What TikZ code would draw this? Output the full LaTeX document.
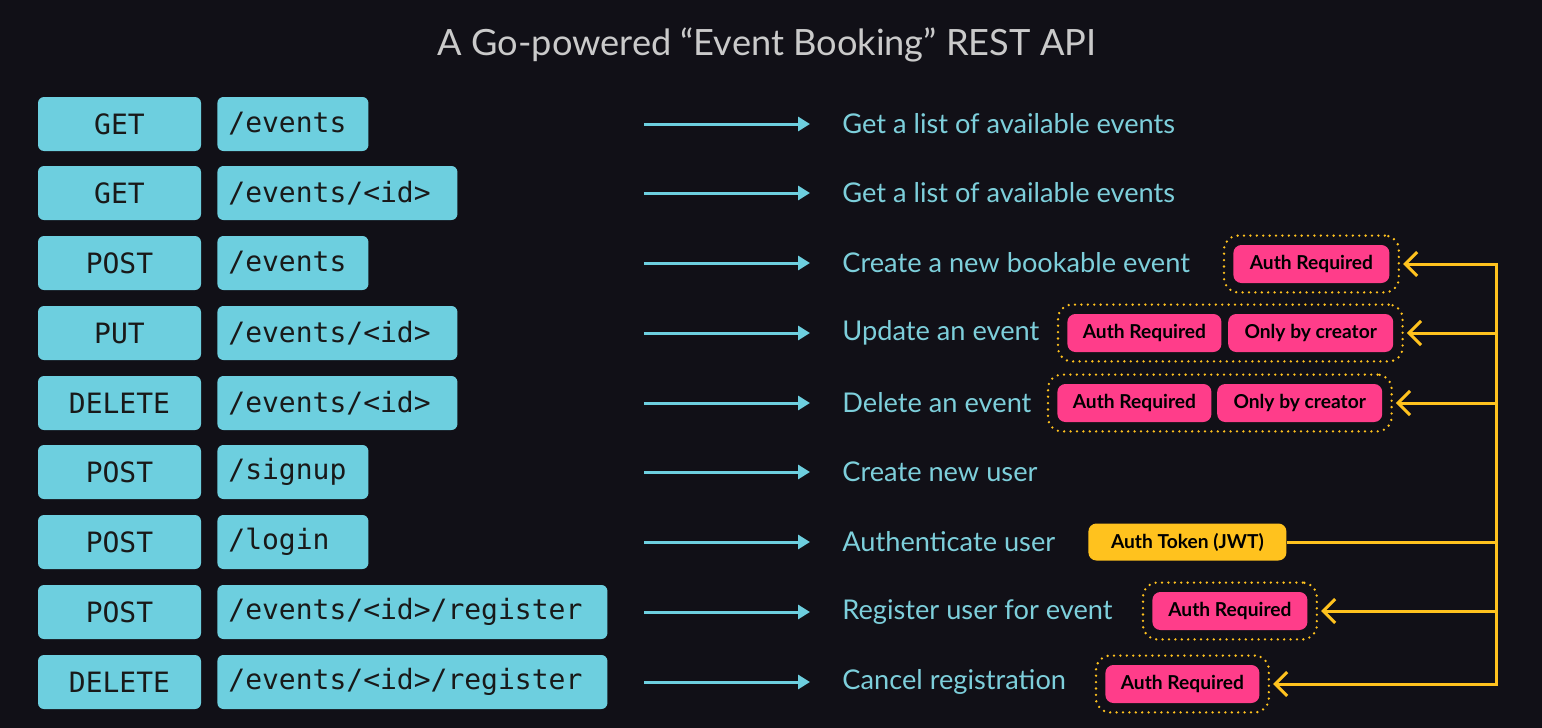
\documentclass[tikz,border=0pt]{standalone}
\usepackage{fontspec}
\setmainfont{Lato}
\newfontfamily\codefont{DejaVu Sans Mono}
\usetikzlibrary{arrows.meta,positioning,fit}

\definecolor{bg}{HTML}{111017}
\definecolor{boxcyan}{HTML}{6DCFDF}
\definecolor{desccol}{HTML}{7DCFDB}
\definecolor{titlecol}{HTML}{CACACA}
\definecolor{badgepink}{HTML}{FF3D8A}
\definecolor{gold}{HTML}{FFC21E}

\begin{document}
\begin{tikzpicture}[x=0.5pt,y=-0.5pt,
    method/.style={fill=boxcyan,rounded corners=3pt,minimum width=81.5pt,
      minimum height=27pt,text=black!90,font=\codefont\fontsize{14}{16}\selectfont},
    route/.style={fill=boxcyan,rounded corners=3pt,anchor=west,minimum height=27pt,
      inner xsep=5.5pt,text width=#1,align=left,text=black!90,
      font=\codefont\fontsize{14}{16}\selectfont},
    desc/.style={anchor=west,inner sep=0pt,text=desccol,font=\fontsize{13.6}{16}\selectfont},
    flow/.style={draw=boxcyan,line width=1.5pt,-{Triangle[length=6pt,width=7pt]},shorten >=16pt},
    badge/.style={fill=badgepink,rounded corners=4pt,minimum height=19pt,text=black,
      font=\bfseries\fontsize{9.6}{11}\selectfont},
    dots/.style={draw=gold,line width=1.3pt,dash pattern=on 0pt off 3.2pt,line cap=round,
      rounded corners=7pt,inner sep=4.5pt},
    link/.style={draw=gold,line width=1.5pt,-{Straight Barb[length=6pt,width=12pt]},shorten >=1.5pt}]

  \path[fill=bg] (0,0) rectangle (1542,728);

  \node[text=titlecol,font=\fontsize{18.1}{21}\selectfont] (title) at (767,45)
       {A Go-powered “Event Booking” REST API};

  % methods
  \node[method] (M1) at (119.5,124) {GET};
  \node[method] (M2) at (119.5,193) {GET};
  \node[method] (M3) at (119.5,263) {POST};
  \node[method] (M4) at (119.5,333) {PUT};
  \node[method] (M5) at (119.5,403) {DELETE};
  \node[method] (M6) at (119.5,472) {POST};
  \node[method] (M7) at (119.5,542) {POST};
  \node[method] (M8) at (119.5,612) {POST};
  \node[method] (M9) at (119.5,682) {DELETE};

  % routes
  \node[route=64.5pt] (P1) at (217,124) {/events};
  \node[route=109pt]  (P2) at (217,193) {/events/<id>};
  \node[route=64.5pt] (P3) at (217,263) {/events};
  \node[route=109pt]  (P4) at (217,333) {/events/<id>};
  \node[route=109pt]  (P5) at (217,403) {/events/<id>};
  \node[route=64.5pt] (P6) at (217,472) {/signup};
  \node[route=64.5pt] (P7) at (217,542) {/login};
  \node[route=184pt]  (P8) at (217,612) {/events/<id>/register};
  \node[route=184pt]  (P9) at (217,682) {/events/<id>/register};

  % descriptions
  \node[desc] (D1) at (842,124) {Get a list of available events};
  \node[desc] (D2) at (842,193) {Get a list of available events};
  \node[desc] (D3) at (842,263) {Create a new bookable event};
  \node[desc] (D4) at (842,333) {Update an event};
  \node[desc] (D5) at (842,403) {Delete an event};
  \node[desc] (D6) at (842,472) {Create new user};
  \node[desc] (D7) at (842,542) {Authenticate user};
  \node[desc] (D8) at (842,612) {Register user for event};
  \node[desc] (D9) at (842,682) {Cancel registration};

  \coordinate (S1) at (644,124);
  \coordinate (S2) at (644,193);
  \coordinate (S3) at (644,263);
  \coordinate (S4) at (644,333);
  \coordinate (S5) at (644,403);
  \coordinate (S6) at (644,472);
  \coordinate (S7) at (644,542);
  \coordinate (S8) at (644,612);
  \coordinate (S9) at (644,682);

  \path (S1) edge[flow] (D1)
        (S2) edge[flow] (D2)
        (S3) edge[flow] (D3)
        (S4) edge[flow] (D4)
        (S5) edge[flow] (D5)
        (S6) edge[flow] (D6)
        (S7) edge[flow] (D7)
        (S8) edge[flow] (D8)
        (S9) edge[flow] (D9);

  % badges
  \node[badge,anchor=west,minimum width=78pt] (A3) at (1233,264) {Auth Required};
  \node[badge,anchor=west,minimum width=77pt] (A4) at (1067,333) {Auth Required};
  \node[badge,minimum width=82.5pt,right=3pt of A4] (C4) {Only by creator};
  \node[badge,anchor=west,minimum width=77pt] (A5) at (1057,403) {Auth Required};
  \node[badge,minimum width=82.5pt,right=2.5pt of A5] (C5) {Only by creator};
  \node[badge,anchor=west,minimum width=99pt,minimum height=18.5pt,fill=gold]
       (T7) at (1088,542) {Auth Token (JWT)};
  \node[badge,anchor=west,minimum width=77.5pt] (A8) at (1152,611) {Auth Required};
  \node[badge,anchor=west,minimum width=77pt] (A9) at (1105,684) {Auth Required};

  \node[dots,fit=(A3)] (G3) {};
  \node[dots,fit=(A4)(C4)] (G4) {};
  \node[dots,fit=(A5)(C5)] (G5) {};
  \node[dots,fit=(A8)] (G8) {};
  \node[dots,fit=(A9)] (G9) {};

  \coordinate (J) at (1496,542);
  \draw[draw=gold,line width=1.5pt] (T7) -- (J);
  \draw[link] (J) |- (G3.east);
  \draw[link] (J) |- (G4.east);
  \draw[link] (J) |- (G5.east);
  \draw[link] (J) |- (G8.east);
  \draw[link] (J) |- (G9.east);
\end{tikzpicture}
\end{document}
